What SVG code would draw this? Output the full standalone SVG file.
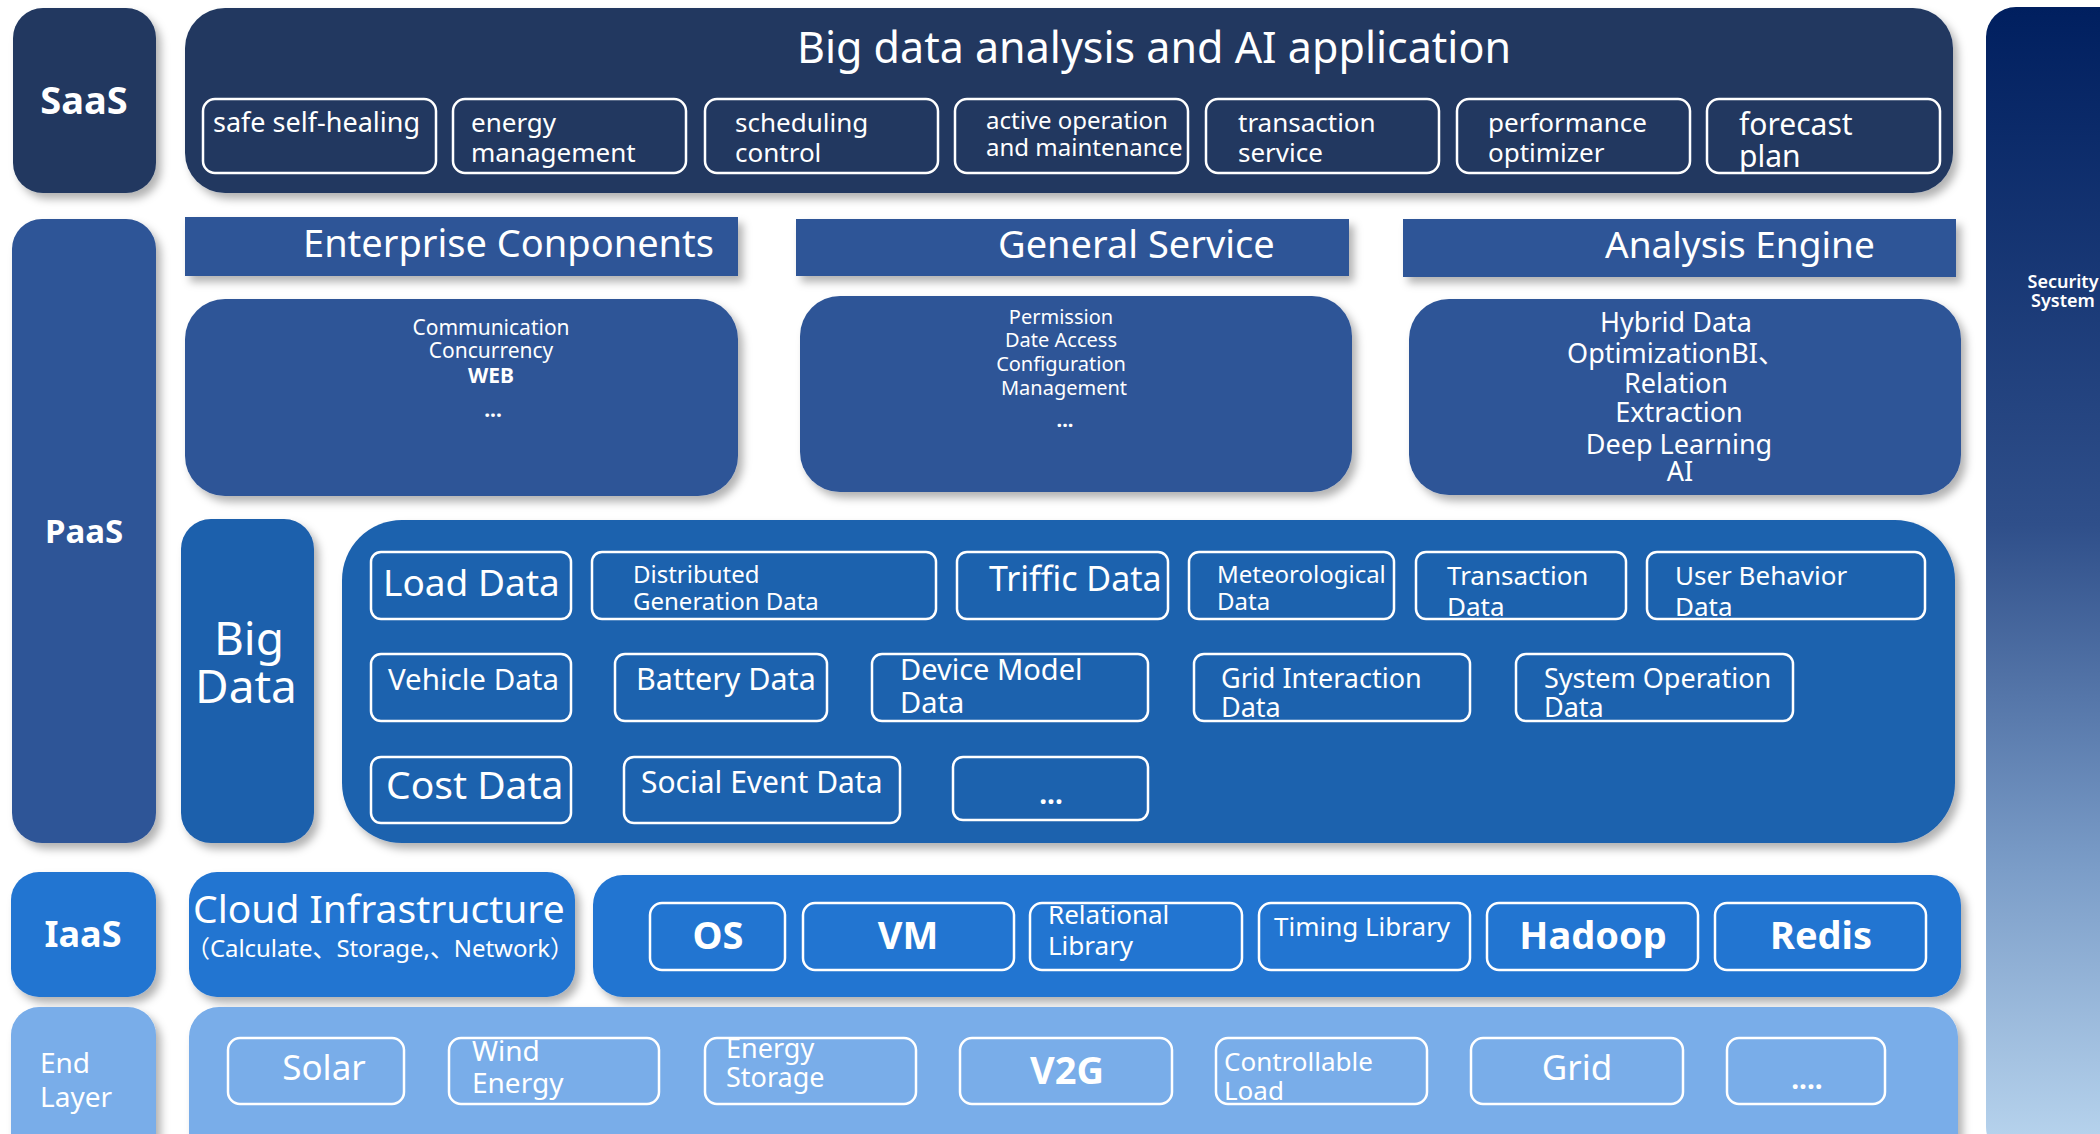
<svg xmlns="http://www.w3.org/2000/svg" width="2100" height="1134" viewBox="0 0 2100 1134">
<defs>
<style>
text{fill:#fff;font-family:"Noto Sans","Noto Sans CJK SC",sans-serif;}
.b{font-weight:700}
.m{text-anchor:middle}
.ib{fill:none;stroke:#fff;stroke-width:2.5}
.saas{fill:#223961}
.paas{fill:#2f5597}
.bd{fill:#1f60ac}
.iaas{fill:#2475d1}
.end{fill:#79ade9}
</style>
<filter id="sh" x="-10%" y="-10%" width="130%" height="140%">
<feDropShadow dx="5" dy="6" stdDeviation="4" flood-color="#000" flood-opacity="0.3"/>
</filter>
<linearGradient id="sec" x1="0" y1="0" x2="0" y2="1">
<stop offset="0" stop-color="#001f5f"/>
<stop offset="0.45" stop-color="#2f4f8a"/>
<stop offset="0.75" stop-color="#7b9dc8"/>
<stop offset="1" stop-color="#bad6ef"/>
</linearGradient>
</defs>
<rect width="2100" height="1134" fill="#fff"/>

<g id="security">
<rect x="1986" y="7" width="150" height="1150" rx="30" fill="url(#sec)"/>
<text class="m" x="2063" y="288" font-size="18" font-weight="600">Security</text>
<text class="m" x="2063" y="307" font-size="18" font-weight="600">System</text>
</g>

<g id="saas-label">
<rect class="saas" x="13" y="8" width="143" height="185" rx="30" filter="url(#sh)"/>
<text class="m b" x="84" y="114" font-size="38">SaaS</text>
</g>

<g id="saas">
<rect class="saas" x="185" y="8" width="1768" height="185" rx="40" filter="url(#sh)"/>
<text class="m" x="1154" y="63" font-size="43">Big data analysis and AI application</text>
<g font-size="26">
<rect class="ib" x="203" y="99" width="233" height="74" rx="12" stroke-width="3"/>
<text x="213" y="132" font-size="27">safe self-healing</text>
<rect class="ib" x="453" y="99" width="233" height="74" rx="12" stroke-width="3"/>
<text x="471" y="132">energy</text><text x="471" y="162">management</text>
<rect class="ib" x="705" y="99" width="233" height="74" rx="12" stroke-width="3"/>
<text x="735" y="132">scheduling</text><text x="735" y="162">control</text>
<rect class="ib" x="955" y="99" width="233" height="74" rx="12" stroke-width="3"/>
<text x="986" y="129" font-size="24">active operation</text><text x="986" y="156" font-size="24">and maintenance</text>
<rect class="ib" x="1206" y="99" width="233" height="74" rx="12" stroke-width="3"/>
<text x="1238" y="132">transaction</text><text x="1238" y="162">service</text>
<rect class="ib" x="1457" y="99" width="233" height="74" rx="12" stroke-width="3"/>
<text x="1488" y="132">performance</text><text x="1488" y="162">optimizer</text>
<rect class="ib" x="1707" y="99" width="233" height="74" rx="12" stroke-width="3"/>
<text x="1739" y="135" font-size="30">forecast</text><text x="1739" y="167" font-size="30">plan</text>
</g>
</g>

<g id="paas-label">
<rect class="paas" x="12" y="219" width="144" height="624" rx="30" filter="url(#sh)"/>
<text class="m b" x="84" y="543" font-size="33">PaaS</text>
</g>

<g id="enterprise">
<rect class="paas" x="185" y="217" width="553" height="59" filter="url(#sh)"/>
<text x="303" y="257" font-size="38">Enterprise Conponents</text>
<rect class="paas" x="185" y="299" width="553" height="197" rx="40" filter="url(#sh)"/>
<g font-size="21">
<text class="m" x="491" y="335">Communication</text>
<text class="m" x="491" y="358">Concurrency</text>
<text class="m b" x="491" y="383">WEB</text>
<text class="m b" x="493" y="417">...</text>
</g>
</g>

<g id="general">
<rect class="paas" x="796" y="219" width="553" height="57" filter="url(#sh)"/>
<text x="998" y="258" font-size="38">General Service</text>
<rect class="paas" x="800" y="296" width="552" height="196" rx="40" filter="url(#sh)"/>
<g font-size="20">
<text class="m" x="1061" y="324">Permission</text>
<text class="m" x="1061" y="347">Date Access</text>
<text class="m" x="1061" y="371">Configuration</text>
<text class="m" x="1064" y="395">Management</text>
<text class="m b" x="1065" y="427">...</text>
</g>
</g>

<g id="analysis">
<rect class="paas" x="1403" y="219" width="553" height="58" filter="url(#sh)"/>
<text x="1605" y="258" font-size="37">Analysis Engine</text>
<rect class="paas" x="1409" y="299" width="552" height="196" rx="40" filter="url(#sh)"/>
<g font-size="27">
<text class="m" x="1676" y="332">Hybrid Data</text>
<text class="m" x="1676" y="363">OptimizationBI、</text>
<text class="m" x="1676" y="393">Relation</text>
<text class="m" x="1679" y="422">Extraction</text>
<text class="m" x="1679" y="454">Deep Learning</text>
<text class="m" x="1680" y="481">AI</text>
</g>
</g>

<g id="bigdata-label">
<rect class="bd" x="181" y="519" width="133" height="324" rx="30" filter="url(#sh)"/>
<text class="m" x="249" y="655" font-size="46">Big</text>
<text class="m" x="246" y="703" font-size="46">Data</text>
</g>

<g id="bigdata">
<rect x="342" y="520" width="1613" height="323" rx="60" fill="#1f62ae" filter="url(#sh)"/>
<rect class="ib" x="371" y="552" width="200" height="67" rx="10"/>
<text x="383" y="596" font-size="37">Load Data</text>
<rect class="ib" x="592" y="552" width="344" height="67" rx="10"/>
<text x="633" y="583" font-size="24">Distributed</text><text x="633" y="610" font-size="24">Generation Data</text>
<rect class="ib" x="957" y="552" width="211" height="67" rx="10"/>
<text x="989" y="591" font-size="34">Triffic Data</text>
<rect class="ib" x="1189" y="552" width="205" height="67" rx="10"/>
<text x="1217" y="583" font-size="24">Meteorological</text><text x="1217" y="610" font-size="24">Data</text>
<rect class="ib" x="1416" y="552" width="210" height="67" rx="10"/>
<text x="1447" y="585" font-size="26">Transaction</text><text x="1447" y="616" font-size="26">Data</text>
<rect class="ib" x="1647" y="552" width="278" height="67" rx="10"/>
<text x="1675" y="585" font-size="26">User Behavior</text><text x="1675" y="616" font-size="26">Data</text>

<rect class="ib" x="371" y="654" width="200" height="67" rx="10"/>
<text x="388" y="690" font-size="29.5">Vehicle Data</text>
<rect class="ib" x="615" y="654" width="212" height="67" rx="10"/>
<text x="636" y="690" font-size="30.5">Battery Data</text>
<rect class="ib" x="872" y="654" width="276" height="67" rx="10"/>
<text x="900" y="680" font-size="29">Device Model</text><text x="900" y="713" font-size="29">Data</text>
<rect class="ib" x="1194" y="654" width="276" height="67" rx="10"/>
<text x="1221" y="688" font-size="27">Grid Interaction</text><text x="1221" y="717" font-size="27">Data</text>
<rect class="ib" x="1516" y="654" width="277" height="67" rx="10"/>
<text x="1544" y="688" font-size="27">System Operation</text><text x="1544" y="717" font-size="27">Data</text>

<rect class="ib" x="371" y="757" width="200" height="66" rx="10"/>
<text x="386" y="799" font-size="39">Cost Data</text>
<rect class="ib" x="624" y="757" width="276" height="66" rx="10"/>
<text x="641" y="793" font-size="30">Social Event Data</text>
<rect class="ib" x="953" y="757" width="195" height="63" rx="10"/>
<text class="m b" x="1051" y="804" font-size="28">...</text>
</g>

<g id="iaas-label">
<rect class="iaas" x="11" y="872" width="145" height="125" rx="28" filter="url(#sh)"/>
<text class="m b" x="83" y="947" font-size="36">IaaS</text>
</g>

<g id="cloud">
<rect class="iaas" x="189" y="872" width="386" height="125" rx="28" filter="url(#sh)"/>
<text x="193" y="923" font-size="39">Cloud Infrastructure</text>
<text x="186" y="957" font-size="24" textLength="388" lengthAdjust="spacing">（Calculate、Storage,、Network）</text>
</g>

<g id="iaas">
<rect class="iaas" x="593" y="875" width="1368" height="122" rx="30" filter="url(#sh)"/>
<rect class="ib" x="650" y="903" width="135" height="67" rx="12"/>
<text class="m b" x="718" y="949" font-size="38">OS</text>
<rect class="ib" x="803" y="903" width="211" height="67" rx="12"/>
<text class="m b" x="908" y="949" font-size="38">VM</text>
<rect class="ib" x="1030" y="903" width="212" height="67" rx="12"/>
<text x="1048" y="924" font-size="26">Relational</text><text x="1048" y="955" font-size="26">Library</text>
<rect class="ib" x="1259" y="903" width="211" height="67" rx="12"/>
<text x="1274" y="936" font-size="26">Timing Library</text>
<rect class="ib" x="1487" y="903" width="211" height="67" rx="12"/>
<text class="m b" x="1593" y="949" font-size="38">Hadoop</text>
<rect class="ib" x="1715" y="903" width="211" height="67" rx="12"/>
<text class="m b" x="1821" y="949" font-size="38">Redis</text>
</g>

<g id="end-label">
<rect class="end" x="11" y="1007" width="145" height="160" rx="28" filter="url(#sh)"/>
<text x="40" y="1073" font-size="28">End</text>
<text x="40" y="1107" font-size="28">Layer</text>
</g>

<g id="end">
<rect class="end" x="189" y="1007" width="1769" height="160" rx="30" filter="url(#sh)"/>
<rect class="ib" x="228" y="1038" width="176" height="66" rx="12"/>
<text class="m" x="324" y="1080" font-size="35">Solar</text>
<rect class="ib" x="449" y="1038" width="210" height="66" rx="12"/>
<text x="472" y="1061" font-size="28">Wind</text><text x="472" y="1093" font-size="28">Energy</text>
<rect class="ib" x="705" y="1038" width="211" height="66" rx="12"/>
<text x="726" y="1058" font-size="27">Energy</text><text x="726" y="1087" font-size="27">Storage</text>
<rect class="ib" x="960" y="1038" width="212" height="66" rx="12"/>
<text class="m b" x="1067" y="1084" font-size="38">V2G</text>
<rect class="ib" x="1216" y="1038" width="211" height="66" rx="12"/>
<text x="1224" y="1071" font-size="26">Controllable</text><text x="1224" y="1100" font-size="26">Load</text>
<rect class="ib" x="1471" y="1038" width="212" height="66" rx="12"/>
<text class="m" x="1577" y="1080" font-size="35">Grid</text>
<rect class="ib" x="1727" y="1038" width="158" height="66" rx="12"/>
<text class="m b" x="1807" y="1089" font-size="28">....</text>
</g>
</svg>
